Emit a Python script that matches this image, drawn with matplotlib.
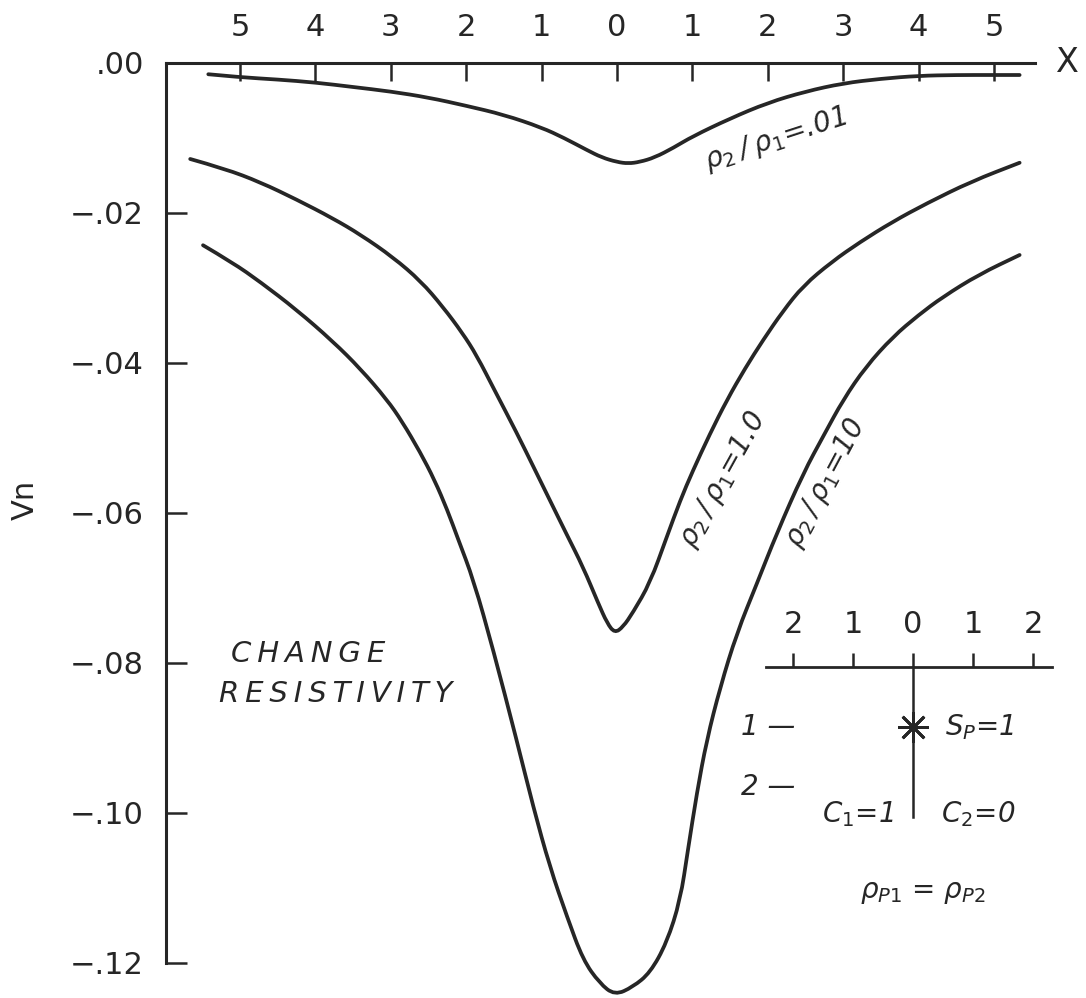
import matplotlib
matplotlib.use('Agg')
import matplotlib.pyplot as plt
from matplotlib.path import Path
from matplotlib.patches import PathPatch

plt.rcParams['font.family'] = 'DejaVu Sans'
plt.rcParams['mathtext.fontset'] = 'dejavusans'
plt.rcParams['mathtext.default'] = 'it'

INK = '#262626'

# normalized potential Vn along the profile, one curve per resistivity ratio
x_r001 = [-5.42, -5.0, -4.5, -4.0, -3.5, -3.0, -2.5, -2.0, -1.5, -1.0, -0.7, -0.4,
          -0.2, 0.0, 0.15, 0.3, 0.5, 0.75, 1.0, 1.5, 2.0, 2.5, 3.0, 3.5, 4.0, 4.5,
          5.0, 5.34]
vn_r001 = [-0.0015, -0.0019, -0.0022, -0.0026, -0.0032, -0.0038, -0.0046, -0.0057,
           -0.0069, -0.0086, -0.0100, -0.0116, -0.0126, -0.0132, -0.0134, -0.0132,
           -0.0126, -0.0113, -0.0098, -0.0074, -0.0053, -0.0038, -0.0027, -0.0021,
           -0.0017, -0.0016, -0.0016, -0.0016]

x_r1 = [-5.66, -5.2, -4.73, -4.25, -3.77, -3.4, -2.97, -2.6, -2.31, -2.05, -1.86,
        -1.62, -1.33, -1.1, -0.89, -0.67, -0.45, -0.25, -0.13, -0.03, 0.08, 0.21,
        0.44, 0.66, 0.84, 1.0, 1.23, 1.46, 1.7, 1.94, 2.2, 2.47, 2.85, 3.22, 3.65,
        4.11, 4.7, 5.34]
vn_r1 = [-0.0128, -0.0141, -0.0159, -0.0182, -0.0207, -0.0229, -0.0259, -0.0291,
         -0.0325, -0.0360, -0.0390, -0.0437, -0.0493, -0.0540, -0.0583, -0.0628,
         -0.0672, -0.0720, -0.0747, -0.0760, -0.0752, -0.0733, -0.0693, -0.0632,
         -0.0583, -0.0545, -0.0495, -0.0449, -0.0407, -0.0369, -0.0331, -0.0297,
         -0.0265, -0.0239, -0.0212, -0.0187, -0.0158, -0.0133]

x_r10 = [-5.49, -5.1, -4.73, -4.25, -3.77, -3.4, -3.05, -2.85, -2.61, -2.42, -2.25,
         -2.11, -1.9, -1.64, -1.33, -1.11, -0.89, -0.66, -0.45, -0.23, -0.03, 0.21,
         0.44, 0.66, 0.84, 0.94, 1.06, 1.19, 1.37, 1.59, 1.86, 2.12, 2.47, 2.75, 3.0,
         3.3, 3.66, 4.0, 4.32, 4.8, 5.34]
vn_r10 = [-0.0243, -0.0266, -0.0292, -0.0329, -0.0371, -0.0408, -0.0449, -0.0478,
          -0.0519, -0.0556, -0.0596, -0.0634, -0.0690, -0.0783, -0.0903, -0.0992,
          -0.1072, -0.1139, -0.1196, -0.1227, -0.1243, -0.1232, -0.1213, -0.1173,
          -0.1116, -0.1050, -0.0973, -0.0903, -0.0832, -0.0760, -0.0693, -0.0627,
          -0.0547, -0.0495, -0.0449, -0.0405, -0.0365, -0.0336, -0.0312, -0.0282,
          -0.0256]

x_ticks = [-5, -4, -3, -2, -1, 0, 1, 2, 3, 4, 5]
x_tick_labels = ['5', '4', '3', '2', '1', '0', '1', '2', '3', '4', '5']
vn_ticks = [0.0, -0.02, -0.04, -0.06, -0.08, -0.10, -0.12]
vn_tick_labels = ['.00', '\u2212.02', '\u2212.04', '\u2212.06', '\u2212.08',
                  '\u2212.10', '\u2212.12']

# sketch of the model: source depth and station scale
sketch_ticks = [-2, -1, 0, 1, 2]
sketch_tick_labels = ['2', '1', '0', '1', '2']
depth_marks = [1, 2]
source_x = 0.0
source_depth = 1.0
hole_bottom = 2.5


def smooth_curve(xs, ys):
    # quadratic bezier through the midpoints, read points act as controls
    verts = [(xs[0], ys[0])]
    codes = [Path.MOVETO]
    for i in range(1, len(xs) - 1):
        verts.append((xs[i], ys[i]))
        verts.append(((xs[i] + xs[i + 1]) / 2, (ys[i] + ys[i + 1]) / 2))
        codes += [Path.CURVE3, Path.CURVE3]
    verts.append((xs[-1], ys[-1]))
    codes.append(Path.LINETO)
    return Path(verts, codes)


fig = plt.figure(figsize=(10.86, 9.98), dpi=100)
ax = fig.add_axes([166 / 1086, 0.0, 869 / 1086, 935 / 998])
ax.set_xlim(-5.981, 5.544)
ax.set_ylim(-0.12467, 0.0)

for xs, vs in [(x_r001, vn_r001), (x_r1, vn_r1), (x_r10, vn_r10)]:
    ax.add_patch(PathPatch(smooth_curve(xs, vs), fill=False, edgecolor=INK,
                           lw=2.7, capstyle='round', clip_on=False))

ax.spines['right'].set_visible(False)
ax.spines['bottom'].set_visible(False)
ax.spines['left'].set_bounds(-0.12, 0.0)
for s in ['left', 'top']:
    ax.spines[s].set_linewidth(2.2)
    ax.spines[s].set_color(INK)

ax.xaxis.set_ticks_position('top')
ax.set_xticks(x_ticks)
ax.set_xticklabels(x_tick_labels)
ax.tick_params(axis='x', direction='in', length=13, width=1.8, pad=15,
               labelsize=22, colors=INK)
ax.set_yticks(vn_ticks)
ax.set_yticklabels(vn_tick_labels)
ax.tick_params(axis='y', direction='in', length=15, width=1.8, pad=16,
               labelsize=22, colors=INK)

ax.text(5.98, 0.0, 'X', fontsize=24, ha='center', va='center', color=INK,
        clip_on=False)
fig.text(25 / 1086, 1 - 500 / 998, 'Vn', rotation=90, fontsize=22,
         ha='center', va='center', color=INK)

# curve labels
lab = dict(style='italic', fontsize=20, color=INK, ha='center', va='center',
           rotation_mode='anchor')
ax.text(2.1, -0.0102, 'ρ$_2$\u2009/\u2009ρ$_1$=.01', rotation=18, **lab)
ax.text(1.41, -0.0556, 'ρ$_2$\u2009/\u2009ρ$_1$=1.0', rotation=61, **lab)
ax.text(2.77, -0.0560, 'ρ$_2$\u2009/\u2009ρ$_1$=10', rotation=62, **lab)

ax.text(-4.1, -0.0788, '\u2009'.join('CHANGE'), style='italic', fontsize=21,
        ha='center', va='center', color=INK)
ax.text(-3.73, -0.0841, '\u2009'.join('RESISTIVITY'), style='italic',
        fontsize=21, ha='center', va='center', color=INK)

# small sketch of the source position
ins = fig.add_axes([763 / 1086, 1 - 907 / 998, 300 / 1086, 312 / 998])
ins.set_xlim(-2.5, 2.5)
ins.set_ylim(4.0, -1.2)
ins.patch.set_visible(False)
for s in ['left', 'right', 'bottom']:
    ins.spines[s].set_visible(False)
ins.spines['top'].set_position(('data', 0))
ins.spines['top'].set_bounds(-2.45, 2.32)
ins.spines['top'].set_linewidth(2.0)
ins.spines['top'].set_color(INK)
ins.xaxis.set_ticks_position('top')
ins.set_xticks(sketch_ticks)
ins.set_xticklabels(sketch_tick_labels)
ins.tick_params(axis='x', direction='out', length=10, width=1.8, pad=10,
                labelsize=22, colors=INK)
ins.set_yticks([])

ins.plot([source_x, source_x], [0, hole_bottom], color=INK, lw=1.8)
ins.plot(source_x, source_depth, marker=(8, 2, 0), ms=22, mew=2.0, color=INK)

for d in depth_marks:
    ins.text(-1.97, d, '%d —' % d, style='italic', fontsize=20, ha='right',
             va='center', color=INK)
ins.text(0.53, source_depth, 'S$_P$=1', style='italic', fontsize=20,
         ha='left', va='center', color=INK)
ins.text(-0.92, 2.45, 'C$_1$=1', style='italic', fontsize=20, ha='center',
         va='center', color=INK)
ins.text(1.08, 2.45, 'C$_2$=0', style='italic', fontsize=20, ha='center',
         va='center', color=INK)
ins.text(0.17, 3.75, 'ρ$_{P1}$ = ρ$_{P2}$', style='italic', fontsize=20,
         ha='center', va='center', color=INK)

plt.savefig('out.png', dpi=100)
